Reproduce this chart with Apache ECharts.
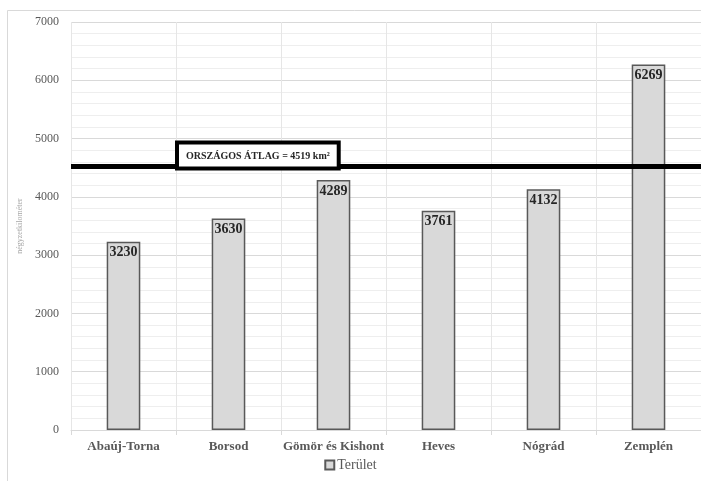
<!DOCTYPE html>
<html><head><meta charset="utf-8">
<script src="https://cdn.jsdelivr.net/npm/echarts@6/dist/echarts.min.js"></script>
<style>html,body{margin:0;padding:0;background:#fff}#c{width:701px;height:481px}</style>
</head><body><div id="c"></div>
<script>
const categories = ['Abaúj-Torna', 'Borsod', 'Gömör és Kishont', 'Heves', 'Nógrád', 'Zemplén'];
const areaValues = [3230, 3630, 4289, 3761, 4132, 6269];
const averageValue = 4519;
const averageLabel = 'ORSZÁGOS ÁTLAG = 4519 km²';
const seriesName = 'Terület';
const yAxisName = 'négyzetkilométer';
const yTicks = [0, 1000, 2000, 3000, 4000, 5000, 6000, 7000];

const chart = echarts.init(document.getElementById('c'));
const serif = '"Liberation Serif", "DejaVu Serif", serif';
chart.setOption({
  animation: false,
  backgroundColor: '#fff',
  graphic: [{
    type: 'rect', shape: { x: 7.5, y: 10.5, width: 720, height: 500 },
    style: { fill: 'none', stroke: '#d9d9d9', lineWidth: 1 }, silent: true, z: -1
  }],
  grid: { left: 71, right: 0, top: 22, bottom: 51 },
  legend: {
    data: [seriesName], bottom: 4, left: 'center',
    itemWidth: 9, itemHeight: 9, itemGap: 4,
    icon: 'rect',
    textStyle: { fontFamily: serif, fontSize: 14, color: '#595959', padding: [0, 0, 0, -2] }
  },
  xAxis: {
    type: 'category', data: categories,
    axisLine: { show: true, lineStyle: { color: '#d9d9d9' } },
    axisTick: { show: true, interval: 0, length: 5, lineStyle: { color: '#d9d9d9' } },
    splitLine: { show: true, interval: 0, lineStyle: { color: '#e6e6e6' } },
    axisLabel: { interval: 0, fontFamily: serif, fontWeight: 'bold', fontSize: 13, color: '#595959', margin: 10 }
  },
  yAxis: {
    type: 'value', min: 0, max: 7000, interval: 1000,
    name: yAxisName, nameLocation: 'middle', nameGap: 44,
    nameTextStyle: { fontFamily: serif, fontSize: 8, color: '#a6a6a6' },
    axisLine: { show: false }, axisTick: { show: false },
    axisLabel: { fontFamily: serif, fontSize: 12, color: '#595959', margin: 12,
      formatter: v => yTicks.includes(v) ? String(v) : '' },
    splitLine: { lineStyle: { color: '#d9d9d9' } },
    minorTick: { show: false, splitNumber: 5 },
    minorSplitLine: { show: true, lineStyle: { color: '#eeeeee' } }
  },
  series: [{
    name: seriesName, type: 'bar', data: areaValues, barWidth: '32%',
    itemStyle: { color: '#d9d9d9', borderColor: '#595959', borderWidth: 1.5 },
    label: { show: true, position: 'insideTop', distance: 4, fontFamily: serif,
      fontWeight: 'bold', fontSize: 14, color: '#262626' },
    markLine: {
      silent: true, symbol: ['none', 'none'],
      lineStyle: { color: '#000', width: 5, type: 'solid' },
      data: [{ yAxis: averageValue }],
      label: {
        show: true, position: 'insideStartTop', distance: [108, 0],
        formatter: averageLabel,
        fontFamily: serif, fontWeight: 'bold', fontSize: 10, color: '#262626',
        backgroundColor: '#fff', borderColor: '#000', borderWidth: 4,
        padding: [7, 7, 5, 7]
      }
    }
  }]
});
</script></body></html>
